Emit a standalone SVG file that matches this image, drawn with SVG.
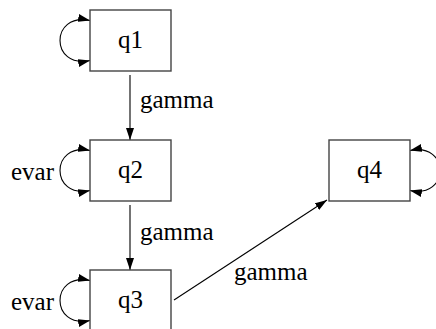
<svg xmlns="http://www.w3.org/2000/svg" width="436" height="329" viewBox="0 0 436 329">
<style>
.box{fill:#fff;stroke:#444;stroke-width:1.4}
.lbl{font-family:"Liberation Serif","Times New Roman",serif;font-size:25px;fill:#000}
.nm{text-anchor:middle}
.edge{fill:none;stroke:#000;stroke-width:1.1}
</style>
<defs>
<marker id="ah" markerUnits="userSpaceOnUse" markerWidth="12" markerHeight="8" refX="12" refY="4" orient="auto-start-reverse">
<path d="M0,0 L12,4 L0,8 Z" fill="#000"/>
</marker>
</defs>
<rect width="436" height="329" fill="#fff"/>
<g id="connectors">
<path class="edge" d="M130,75 L130,140" marker-end="url(#ah)"/>
<text class="lbl" x="140" y="108">gamma</text>
<path class="edge" d="M130,205 L130,270" marker-end="url(#ah)"/>
<text class="lbl" x="140" y="240">gamma</text>
<path class="edge" d="M174,300 L327,200" marker-end="url(#ah)"/>
<text class="lbl" x="234" y="280">gamma</text>
<path class="edge" d="M90,20.5 C50,12 50,69 90,60.5" marker-start="url(#ah)" marker-end="url(#ah)"/>
<path class="edge" d="M90,150.5 C50,142 50,199 90,190.5" marker-start="url(#ah)" marker-end="url(#ah)"/>
<text class="lbl" x="11" y="180">evar</text>
<path class="edge" d="M90,280.5 C50,272 50,329 90,320.5" marker-start="url(#ah)" marker-end="url(#ah)"/>
<text class="lbl" x="11" y="310">evar</text>
<path class="edge" d="M410,150.5 C450,142 450,199 410,190.5" marker-start="url(#ah)" marker-end="url(#ah)"/>
</g>
<g id="q1">
<rect class="box" x="90" y="10" width="81" height="61"/>
<text class="lbl nm" x="130.5" y="48">q1</text>
</g>
<g id="q2">
<rect class="box" x="90" y="140" width="81" height="61"/>
<text class="lbl nm" x="130.5" y="178">q2</text>
</g>
<g id="q3">
<rect class="box" x="90" y="270" width="81" height="61"/>
<text class="lbl nm" x="130.5" y="308">q3</text>
</g>
<g id="q4">
<rect class="box" x="329" y="140" width="81" height="61"/>
<text class="lbl nm" x="369.5" y="178">q4</text>
</g>
</svg>
